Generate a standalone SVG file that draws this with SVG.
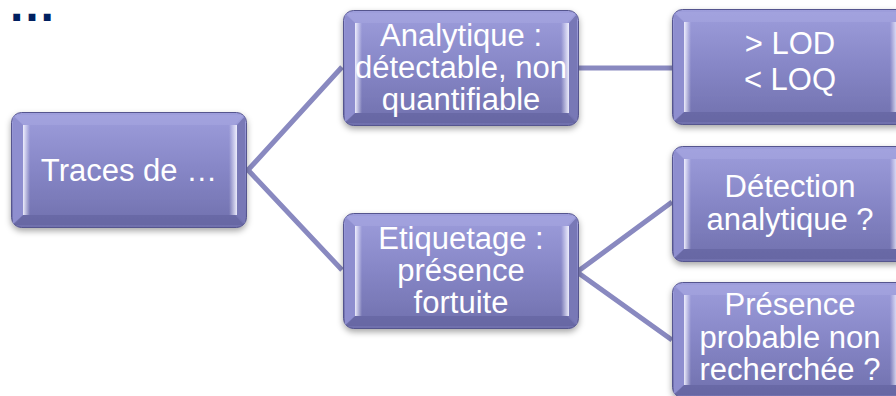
<svg xmlns="http://www.w3.org/2000/svg" xmlns:xlink="http://www.w3.org/1999/xlink" width="896" height="396" viewBox="0 0 896 396">
  <style>
    .lbl { font-family: "Liberation Sans", Arial, sans-serif; font-size: 31px; fill: #ffffff; text-anchor: middle; }
    .link { stroke: #8989c0; stroke-width: 5; fill: none; stroke-linecap: butt; stroke-linejoin: miter; }
    .dots { font-family: "Liberation Sans", Arial, sans-serif; font-size: 48px; font-weight: bold; fill: #002060; }
  </style>
  <defs>
    <linearGradient id="faceFill" x1="0" y1="0" x2="0" y2="1">
      <stop offset="0" stop-color="#9e9edc"/>
      <stop offset="0.5" stop-color="#8686c6"/>
      <stop offset="1" stop-color="#7070ad"/>
    </linearGradient>
    <linearGradient id="leftHi" x1="0" y1="0" x2="1" y2="0">
      <stop offset="0" stop-color="#f2f2ff" stop-opacity="0.95"/>
      <stop offset="1" stop-color="#f2f2ff" stop-opacity="0"/>
    </linearGradient>
    <linearGradient id="rightHi" x1="0" y1="0" x2="1" y2="0">
      <stop offset="0" stop-color="#f2f2ff" stop-opacity="0"/>
      <stop offset="1" stop-color="#f2f2ff" stop-opacity="0.95"/>
    </linearGradient>
    <filter id="shadow" x="-10%" y="-10%" width="120%" height="130%">
      <feDropShadow dx="0" dy="3" stdDeviation="3" flood-color="#000000" flood-opacity="0.35"/>
    </filter>
    <!-- bevelled box, 236 x 116 -->
    <g id="box">
      <rect x="0.5" y="0.5" width="235" height="115" rx="10" fill="url(#faceFill)" stroke="#55558e" stroke-width="1" filter="url(#shadow)"/>
      <polygon points="3,3 233,3 224,13 12,13" fill="#a8a8e2" opacity="0.5"/>
      <polygon points="12,103 224,103 233,113 3,113" fill="#5e5e99" opacity="0.5"/>
      <polygon points="2,4 12,13 12,103 2,112" fill="#8e8ecf"/>
      <polygon points="234,4 226,13 226,103 234,112" fill="#7878b6"/>
      <rect x="12" y="13" width="7" height="90" fill="url(#leftHi)"/>
      <rect x="218" y="13" width="8" height="90" fill="url(#rightHi)"/>
    </g>
  </defs>

  <text class="dots" x="8" y="21">…</text>

  <g id="connectors">
    <polyline class="link" points="342,67 248,170 342,270"/>
    <line class="link" x1="577" y1="68" x2="672" y2="68"/>
    <polyline class="link" points="672,202 577,272 672,340"/>
  </g>

  <g id="node-traces">
    <use xlink:href="#box" x="11" y="112"/>
    <text class="lbl" x="129" y="181">Traces de …</text>
  </g>

  <g id="node-analytique">
    <use xlink:href="#box" x="343" y="10"/>
    <text class="lbl" x="461" y="46">Analytique :</text>
    <text class="lbl" x="461" y="78">détectable, non</text>
    <text class="lbl" x="461" y="110">quantifiable</text>
  </g>

  <g id="node-etiquetage">
    <use xlink:href="#box" x="343" y="213"/>
    <text class="lbl" x="461" y="249">Etiquetage :</text>
    <text class="lbl" x="461" y="281">présence</text>
    <text class="lbl" x="461" y="313">fortuite</text>
  </g>

  <g id="node-lod">
    <use xlink:href="#box" x="672" y="9"/>
    <text class="lbl" x="790" y="54">&gt; LOD</text>
    <text class="lbl" x="790" y="90">&lt; LOQ</text>
  </g>

  <g id="node-detection">
    <use xlink:href="#box" x="672" y="146"/>
    <text class="lbl" x="790" y="197">Détection</text>
    <text class="lbl" x="790" y="230">analytique ?</text>
  </g>

  <g id="node-presence">
    <use xlink:href="#box" x="672" y="282"/>
    <text class="lbl" x="790" y="315">Présence</text>
    <text class="lbl" x="790" y="348">probable non</text>
    <text class="lbl" x="790" y="380">recherchée ?</text>
  </g>
</svg>
